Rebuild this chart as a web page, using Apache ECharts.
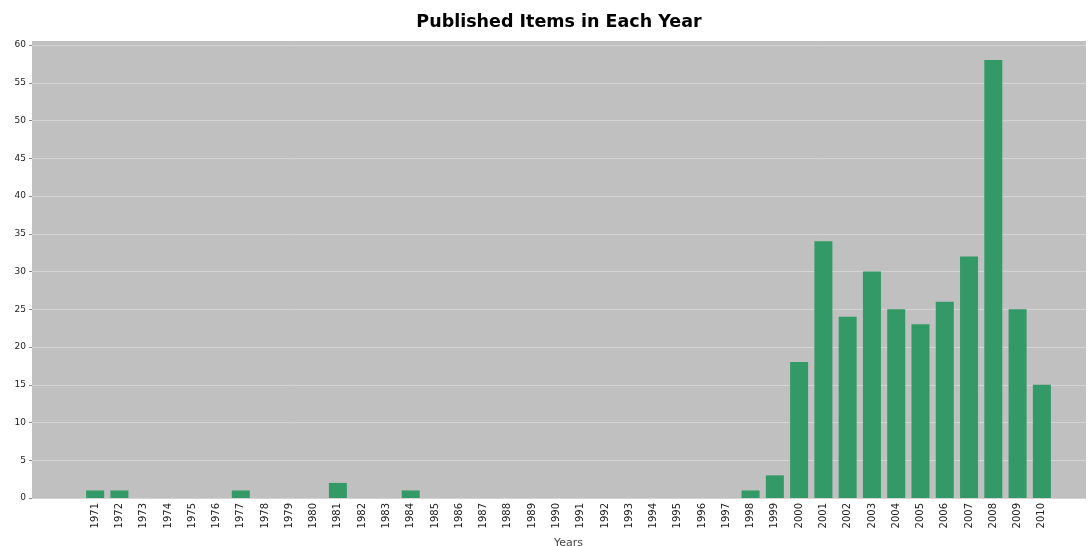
<!DOCTYPE html>
<html>
<head>
<meta charset="utf-8">
<script src="https://cdn.jsdelivr.net/npm/echarts@6/dist/echarts.min.js"></script>
<style>html,body{margin:0;padding:0;background:#fff}#c{width:1088px;height:546px}</style>
</head>
<body>
<div id="c"></div>
<script>
const years = [];
for (let y = 1971; y <= 2010; y++) years.push(String(y));
const counts = [1,1,0,0,0,0,1,0,0,0, 2,0,0,1,0,0,0,0,0,0, 0,0,0,0,0,0,0,1,3,18, 34,24,30,25,23,26,32,58,25,15];
const yTicks = {min: 0, max: 60, interval: 5};
const titleText = 'Published Items in Each Year';
const xName = 'Years';

const chart = echarts.init(document.getElementById('c'), null, {renderer: 'canvas'});
const font = 'DejaVu Sans, sans-serif';
chart.setOption({
  animation: false,
  title: {text: titleText, left: 554, textAlign: 'center', top: 8,
    textStyle: {fontFamily: font, fontSize: 17.5, fontWeight: 'bold', color: '#000'}},
  grid: [
    {left: 32, right: 2, top: 41, bottom: 47, show: true, backgroundColor: '#c0c0c0', borderWidth: 0, outerBoundsMode: 'none', containLabel: false},
    {left: 32, right: 2, top: 45, bottom: 48, outerBoundsMode: 'none', containLabel: false},
    {left: 83, right: 34, top: 45, bottom: 48, outerBoundsMode: 'none', containLabel: false}
  ],
  xAxis: [
    {gridIndex: 0, type: 'value', show: false},
    {gridIndex: 1, type: 'value', show: false},
    {gridIndex: 2, type: 'category', data: years,
      axisLine: {show: false}, axisTick: {show: false},
      axisLabel: {rotate: 90, fontSize: 10, color: '#222', margin: 5, fontFamily: font, interval: 0},
      name: xName, nameLocation: 'middle', nameGap: 40,
      nameTextStyle: {fontSize: 11, color: '#444', fontFamily: font}}
  ],
  yAxis: [
    {gridIndex: 0, type: 'value', show: false},
    {gridIndex: 1, type: 'value', min: yTicks.min, max: yTicks.max, interval: yTicks.interval,
      axisLine: {show: false},
      axisTick: {show: true, length: 3, lineStyle: {color: '#888'}},
      axisLabel: {fontSize: 9, color: '#222', margin: 6, fontFamily: font},
      splitLine: {show: true, lineStyle: {color: '#d4d4d4', width: 1}}},
    {gridIndex: 2, type: 'value', min: yTicks.min, max: yTicks.max, interval: yTicks.interval, show: false,
      splitLine: {show: false}}
  ],
  series: [{
    type: 'bar', xAxisIndex: 2, yAxisIndex: 2, data: counts,
    barWidth: 18, itemStyle: {color: '#339966'}
  }]
});
</script>
</body>
</html>
